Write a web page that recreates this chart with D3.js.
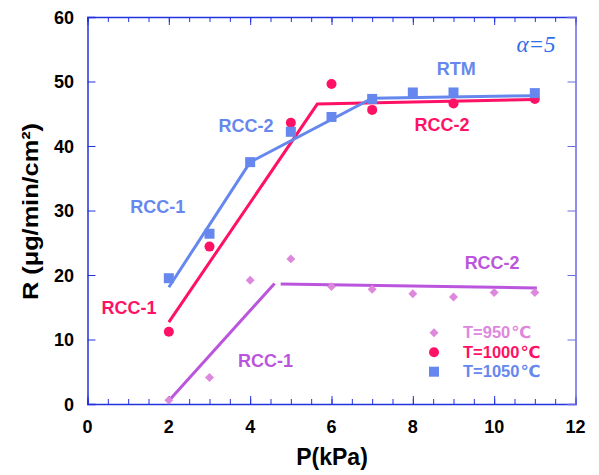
<!DOCTYPE html>
<html><head><meta charset="utf-8">
<script src="https://cdn.jsdelivr.net/npm/d3@7"></script>
<style>body{margin:0;background:#fff}svg{display:block}</style>
</head><body><svg id="c" width="599" height="475"></svg>
<script>
// data
const pressure = [2,3,4,5,6,7,8,9,10,11];
const r950 = [0.6,4.1,19.2,22.5,18.2,17.8,17.1,16.6,17.3,17.3];
const p1000 = [2,3,5,6,7,9,11];
const r1000 = [11.2,24.4,43.6,49.6,45.6,46.6,47.3];
const p1050 = [2,3,4,5,6,7,8,9,11];
const r1050 = [19.5,26.4,37.5,42.2,44.5,47.3,48.3,48.3,48.2];
// fitted trend segments
const fit950a = [[2,0.5],[4.6,18.7]];
const fit950b = [[4.75,18.6],[11.05,18.0]];
const fit1000 = [[2,12.7],[5.65,46.5],[11,47.2]];
const fit1050 = [[2,18.1],[4,37.5],[7,47.4],[11,47.8]];
const xTicks = [0,2,4,6,8,10,12];
const yTicks = [0,10,20,30,40,50,60];
const legendTemps = ["950","1000","1050"];
const regionLabels = [
  {t:"RCC-1",x:1.73,y:29.6,c:"#6688ee"},
  {t:"RCC-2",x:3.90,y:42.1,c:"#6688ee"},
  {t:"RTM",x:9.07,y:51.0,c:"#6688ee"},
  {t:"RCC-2",x:8.72,y:42.4,c:"#ff1166"},
  {t:"RCC-1",x:1.02,y:13.95,c:"#ff1166"},
  {t:"RCC-1",x:4.38,y:5.78,c:"#bb55dd"},
  {t:"RCC-2",x:9.95,y:21.0,c:"#bb55dd"}
];
const c950="#dd88dd", c1000="#ff1166", c1050="#6688ee", cFit950="#bb55dd";
const F = "'Liberation Sans',Arial,Helvetica,sans-serif";

const svg = d3.select("#c");
const x = d3.scaleLinear().domain([0,12]).range([87.5,575.5]);
const y = d3.scaleLinear().domain([0,60]).range([404,17]);
const axisCol="#2233dd";

// axes box with inward ticks
const g = svg.append("g");
const style = (a,col)=>{a.select(".domain").attr("stroke",col).attr("stroke-width",1.5);a.selectAll("line").attr("stroke",col);};
g.append("g").attr("transform","translate(0,404)")
  .call(d3.axisBottom(x).tickValues(d3.range(0,12.01,0.5)).tickSize(-5).tickFormat(""))
  .call(a=>style(a,axisCol));
g.append("g").attr("transform","translate(0,404)")
  .call(d3.axisBottom(x).tickValues(xTicks).tickSize(-8).tickFormat(""))
  .call(a=>{a.select(".domain").remove();a.selectAll("line").attr("stroke",axisCol);});
g.append("g").attr("transform","translate(0,17)")
  .call(d3.axisTop(x).tickValues(d3.range(0,12.01,0.5)).tickSize(-5).tickFormat(""))
  .call(a=>style(a,axisCol));
g.append("g").attr("transform","translate(0,17)")
  .call(d3.axisTop(x).tickValues(xTicks).tickSize(-8).tickFormat(""))
  .call(a=>{a.select(".domain").remove();a.selectAll("line").attr("stroke",axisCol);});
g.append("g").attr("transform","translate(87.5,0)")
  .call(d3.axisLeft(y).tickValues(yTicks).tickSize(-8).tickFormat(""))
  .call(a=>style(a,axisCol));
g.append("g").attr("transform","translate(575.5,0)")
  .call(d3.axisRight(y).tickValues(yTicks).tickSize(-8).tickFormat(""))
  .call(a=>style(a,"#6a6ae0"));

// tick labels
svg.selectAll(".xl").data(xTicks).enter().append("text")
  .attr("x",d=>x(d)).attr("y",433).attr("text-anchor","middle")
  .style("font-family",F).attr("font-size",18).attr("font-weight","bold").text(d=>d);
svg.selectAll(".yl").data(yTicks).enter().append("text")
  .attr("x",74).attr("y",d=>y(d)+6.5).attr("text-anchor","end")
  .style("font-family",F).attr("font-size",18).attr("font-weight","bold").text(d=>d);
// titles
svg.append("text").attr("x",332).attr("y",465).attr("text-anchor","middle")
  .style("font-family",F).attr("font-size",23).attr("font-weight","bold").text("P(kPa)");
svg.append("text").attr("transform","translate(38,211.5) rotate(-90)").attr("text-anchor","middle")
  .style("font-family",F).attr("font-size",22).attr("font-weight","bold")
  .attr("textLength",177).attr("lengthAdjust","spacingAndGlyphs").text("R (\u03bcg/min/cm\u00b2)");

// fit lines
const line = d3.line().x(d=>x(d[0])).y(d=>y(d[1]));
[[fit950a,cFit950],[fit950b,cFit950],[fit1000,c1000],[fit1050,c1050]].forEach(([d,c])=>{
  svg.append("path").attr("d",line(d)).attr("fill","none").attr("stroke",c).attr("stroke-width",3);
});

// markers
const sym = (type,size)=>d3.symbol().type(type).size(size)();
svg.selectAll(".d950").data(pressure.map((p,i)=>[p,r950[i]])).enter().append("path")
  .attr("d",sym(d3.symbolSquare,40)).attr("transform",d=>`translate(${x(d[0])},${y(d[1])}) rotate(45)`).attr("fill",c950);
svg.selectAll(".d1000").data(p1000.map((p,i)=>[p,r1000[i]])).enter().append("circle")
  .attr("cx",d=>x(d[0])).attr("cy",d=>y(d[1])).attr("r",5).attr("fill",c1000);
svg.selectAll(".d1050").data(p1050.map((p,i)=>[p,r1050[i]])).enter().append("rect")
  .attr("x",d=>x(d[0])-5).attr("y",d=>y(d[1])-5).attr("width",10).attr("height",10).attr("fill",c1050);

// region labels
svg.selectAll(".rl").data(regionLabels).enter().append("text")
  .attr("x",d=>x(d.x)).attr("y",d=>y(d.y)).attr("text-anchor","middle")
  .style("font-family",F).attr("font-size",18).attr("font-weight","bold").attr("fill",d=>d.c).text(d=>d.t);

// alpha label
svg.append("text").attr("x",536).attr("y",52).attr("text-anchor","middle")
  .style("font-family","'Liberation Serif','Times New Roman',serif").attr("font-style","italic")
  .attr("font-size",23).attr("fill","#2f6fe8").text("\u03b1=5");

// legend
const legCols=[c950,c1000,c1050];
const lg = svg.append("g");
legendTemps.forEach((t,i)=>{
  const my=[332.7,352.3,371.7][i], by=[338.3,357.7,376.9][i];
  if(i===0) lg.append("path").attr("d",sym(d3.symbolSquare,40)).attr("transform",`translate(434,${my}) rotate(45)`).attr("fill",legCols[i]);
  if(i===1) lg.append("circle").attr("cx",434).attr("cy",my).attr("r",5).attr("fill",legCols[i]);
  if(i===2) lg.append("rect").attr("x",429).attr("y",my-5).attr("width",10).attr("height",10).attr("fill",legCols[i]);
  const tx = lg.append("text").attr("x",463).attr("y",by).style("font-family",F).attr("font-size",16.5).attr("font-weight","bold").attr("fill",legCols[i]);
  tx.append("tspan").text("T="+t);
  tx.append("tspan").attr("dx",1).style("font-family","'DejaVu Sans',sans-serif").attr("font-size",16.5).text("\u2103");
});
</script></body></html>
